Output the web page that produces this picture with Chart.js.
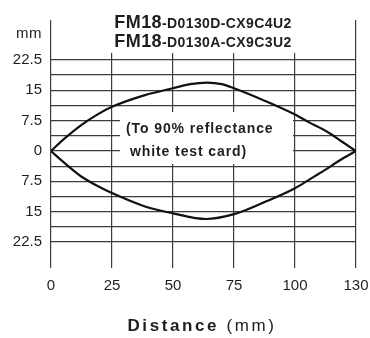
<!DOCTYPE html>
<html>
<head>
<meta charset="utf-8">
<script src="https://cdn.jsdelivr.net/npm/chart.js@4/dist/chart.umd.min.js"></script>
<style>
html, body { margin:0; padding:0; background:#fff; }
#wrap { width:370px; height:338px; }
</style>
</head>
<body>
<div id="wrap"><canvas id="chart" width="370" height="338"></canvas></div>
<script>

/* ===========================
   DATA
=========================== */

const upperX = [0, 5.6, 12.4, 19.3, 25, 38.5, 50, 57, 64, 70, 75, 88, 100, 106, 113, 119, 125];
const upperY = [0, 3.1, 6.4, 9.1, 10.9, 13.8, 15.5, 16.5, 16.9, 16.5, 15.5, 12.3, 9.0, 7.0, 4.8, 2.4, 0];

const lowerX = [0, 5.6, 12.4, 19.3, 25, 38.5, 50, 63.5, 75, 88, 100, 106, 112, 118.4, 125];
const lowerY = [0, -3.0, -6.3, -8.7, -10.4, -13.7, -15.4, -16.8, -15.6, -12.5, -9.2, -7.0, -4.8, -2.3, 0];

const xTickValues = [0, 25, 50, 75, 100, 125];
const xTickLabels = ["0", "25", "50", "75", "100", "130"];

const yGridValues = [-22.5, -18.75, -15, -11.25, -7.5, -3.75, 0, 3.75, 7.5, 11.25, 15, 18.75, 22.5];
const yLabelValues = [-22.5, -15, -7.5, 0, 7.5, 15, 22.5];

const modelA = ["FM18", "-D0130D-CX9C4U2"];
const modelB = ["FM18", "-D0130A-CX9C3U2"];
const noteLines = ["(To 90% reflectance", "white test card)"];
const axisTitle = ["Distance", " (mm)"];
const yUnit = "mm";

const FONT = "'Liberation Sans', Arial, sans-serif";
const INK = "#1e1e1e";
const GRID = "#3c3c3c";


/* ===========================
   TEXT HELPERS
=========================== */

function drawParts(c, parts, cx, baseline, spacing){

    c.letterSpacing = spacing + "px";

    let total = 0;

    parts.forEach(p => {
        c.font = p.font;
        p.w = c.measureText(p.text).width;
        total += p.w;
    });

    let x = cx - total / 2;

    c.textAlign = "left";
    c.textBaseline = "alphabetic";
    c.fillStyle = INK;

    parts.forEach(p => {
        c.font = p.font;
        c.fillText(p.text, x, baseline);
        x += p.w;
    });
}


const decorations = {

    id: "decorations",

    beforeDatasetsDraw(chart){

        const c = chart.ctx;

        c.save();

        c.fillStyle = "#fff";

        // title frame
        c.fillRect(104, 19, 198, 34);

        // note frame
        c.fillRect(120, 112, 173, 52);

        c.restore();
    },

    afterDraw(chart){

        const c = chart.ctx;

        c.save();

        drawParts(c, [
            { text: modelA[0], font: "bold 18px " + FONT },
            { text: modelA[1], font: "bold 14px " + FONT }
        ], 203, 28, 0.4);

        drawParts(c, [
            { text: modelB[0], font: "bold 18px " + FONT },
            { text: modelB[1], font: "bold 14px " + FONT }
        ], 203, 47, 0.4);

        c.letterSpacing = "0.9px";
        c.font = "bold 14px " + FONT;
        c.fillStyle = INK;
        c.textAlign = "left";
        c.fillText(noteLines[0], 126, 133);
        c.fillText(noteLines[1], 130, 156);

        c.letterSpacing = "0.5px";
        c.font = "15px " + FONT;
        c.textAlign = "right";
        c.fillText(yUnit, 42, 38);

        drawParts(c, [
            { text: axisTitle[0], font: "bold 17px " + FONT },
            { text: axisTitle[1], font: "17px " + FONT }
        ], 202, 331, 2.6);

        c.restore();
    }
};


/* ===========================
   CHART
=========================== */

const ctx = document.getElementById("chart");

const chart = new Chart(ctx, {

    type: "scatter",

    data: {

        datasets: [

            {
                data: upperX.map((x, i) => ({ x: x, y: upperY[i] })),
                showLine: true,
                borderColor: "#111",
                borderWidth: 2.2,
                pointRadius: 0,
                cubicInterpolationMode: "monotone"
            },

            {
                data: lowerX.map((x, i) => ({ x: x, y: lowerY[i] })),
                showLine: true,
                borderColor: "#111",
                borderWidth: 2.2,
                pointRadius: 0,
                cubicInterpolationMode: "monotone"
            }
        ]
    },

    options: {

        responsive: false,
        animation: false,
        devicePixelRatio: 1,

        layout: {
            padding: { top: 20, right: 14, left: 0, bottom: 0 }
        },

        plugins: {
            legend: { display: false },
            tooltip: { enabled: false }
        },

        scales: {

            x: {
                type: "linear",
                min: 0,
                max: 125,
                afterBuildTicks: s => { s.ticks = xTickValues.map(v => ({ value: v })); },
                afterFit: s => {
                    s.height = 70;
                    s.paddingLeft = 0;
                    s.paddingRight = 0;
                },
                border: { display: false },
                grid: { color: GRID, lineWidth: 1.2, drawTicks: false },
                ticks: {
                    padding: 9,
                    color: INK,
                    font: { family: FONT, size: 15 },
                    maxRotation: 0,
                    autoSkip: false,
                    callback: (v, i) => xTickLabels[i]
                }
            },

            y: {
                type: "linear",
                min: -28.9,
                max: 32.35,
                afterBuildTicks: s => { s.ticks = yGridValues.map(v => ({ value: v })); },
                afterFit: s => {
                    s.width = 51;
                    s.paddingTop = 0;
                    s.paddingBottom = 0;
                },
                border: { display: false },
                grid: { color: GRID, lineWidth: 1.2, drawTicks: false },
                ticks: {
                    padding: 9,
                    color: INK,
                    font: { family: FONT, size: 15 },
                    autoSkip: false,
                    callback: v => yLabelValues.includes(v) ? String(Math.abs(v)) : ""
                }
            }
        }
    },

    plugins: [decorations]
});

</script>
</body>
</html>
